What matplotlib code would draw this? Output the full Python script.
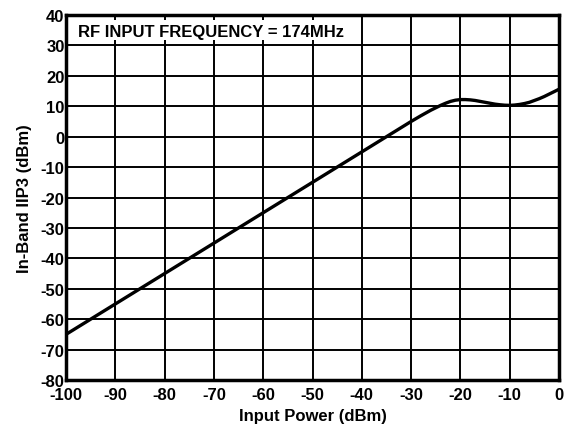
import matplotlib
matplotlib.use("Agg")
import matplotlib.pyplot as plt
from matplotlib.patches import Rectangle

plt.rcParams['font.family'] = ['Liberation Sans', 'DejaVu Sans']

input_power = [-100, -90, -80, -70, -60, -50, -40, -30, -28, -26, -25, -24, -23, -22, -21, -20,
               -19, -18, -17, -16, -15, -14, -13, -12, -11, -10, -9, -8, -7, -6, -5, -4, -3, -2, -1, 0]
iip3 = [-65, -55, -45, -35, -25, -15, -5, 5, 6.9, 8.7, 9.5, 10.3, 11.0, 11.6, 12.0, 12.2,
        12.2, 12.1, 11.9, 11.6, 11.3, 11.0, 10.7, 10.5, 10.35, 10.3, 10.4, 10.6, 10.9, 11.3, 11.9, 12.5, 13.2, 14.0, 14.8, 15.6]

xticks = list(range(-100, 1, 10))
yticks = list(range(-80, 41, 10))

fig = plt.figure(figsize=(5.71, 4.27), dpi=100)
ax = fig.add_axes([0.1156, 0.1077, 0.8634, 0.8548])
ax.plot(input_power, iip3, color='black', lw=2.4, solid_capstyle='round', zorder=3)
ax.set_xlim(-100, 0)
ax.set_ylim(-80, 40)
ax.set_xticks(xticks)
ax.set_yticks(yticks)
ax.set_xticklabels([str(t) for t in xticks], fontsize=12, fontweight='bold')
ax.set_yticklabels([str(t) for t in yticks], fontsize=12, fontweight='bold')
ax.tick_params(axis='x', length=0, pad=5)
ax.tick_params(axis='y', length=0, pad=1)
ax.grid(True, color='black', lw=1.4)
ax.set_axisbelow(True)
for s in ax.spines.values():
    s.set_linewidth(2.5)
    s.set_zorder(5)
ax.set_xlabel('Input Power (dBm)', fontsize=12, fontweight='bold', labelpad=4)
ax.set_ylabel('In-Band IIP3 (dBm)', fontsize=12, fontweight='bold', labelpad=6)
ax.add_patch(Rectangle((-99.6, 31.8), 59.0, 6.6, facecolor='white', edgecolor='none', zorder=2))
ax.text(-97.5, 34.7, 'RF INPUT FREQUENCY = 174MHz', fontsize=12, fontweight='bold',
        va='center', ha='left', zorder=4)
fig.savefig('out.png', dpi=100)
